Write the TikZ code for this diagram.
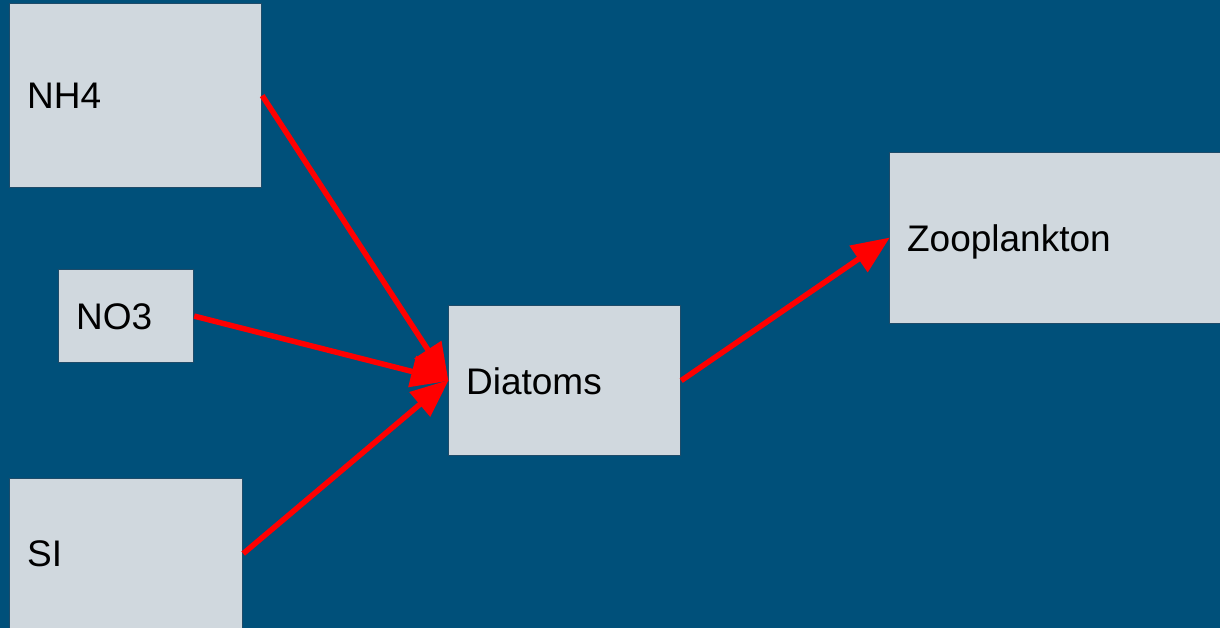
\documentclass[tikz,border=0pt]{standalone}
\usepackage{fontspec}
\setmainfont{Liberation Sans}
\usetikzlibrary{arrows.meta}
\definecolor{bgblue}{RGB}{0,80,122}
\definecolor{boxfill}{RGB}{208,216,222}
\definecolor{boxline}{RGB}{30,75,105}
\definecolor{arrred}{RGB}{255,0,0}
\begin{document}
\begin{tikzpicture}[x=1pt,y=-1pt,
  box/.style={draw=boxline, line width=1.2pt, fill=boxfill, anchor=north west,
    inner xsep=17.5pt, inner ysep=0pt, align=left, text depth=0pt,
    font=\fontsize{37}{42}\selectfont, text=black},
  flow/.style={draw=arrred, line width=5.5pt,
    -{Triangle[length=38pt,width=31pt]}, shorten >=-1pt}]
\fill[bgblue] (0,0) rectangle (1220,628);
\useasboundingbox (0,0) rectangle (1220,628);
\clip (0,0) rectangle (1220,628);
\node[box, minimum width=252pt, minimum height=184pt, text width=217pt] (nh4) at (9,3) {NH4};
\node[box, minimum width=135pt, minimum height=93pt, text width=100pt] (no3) at (58,269) {NO3};
\node[box, minimum width=233pt, minimum height=150pt, text width=198pt] (si) at (9,478) {SI};
\node[box, minimum width=232pt, minimum height=150pt, text width=197pt] (diat) at (448,305) {Diatoms};
\node[box, minimum width=336pt, minimum height=171pt, text width=301pt] (zoo) at (889,152) {Zooplankton};
\draw[flow] (nh4.east) -- (diat.west);
\draw[flow] (no3.east) -- (diat.west);
\draw[flow] (si.east) -- (diat.west);
\draw[flow] (diat.east) -- (zoo.west);
\end{tikzpicture}
\end{document}
